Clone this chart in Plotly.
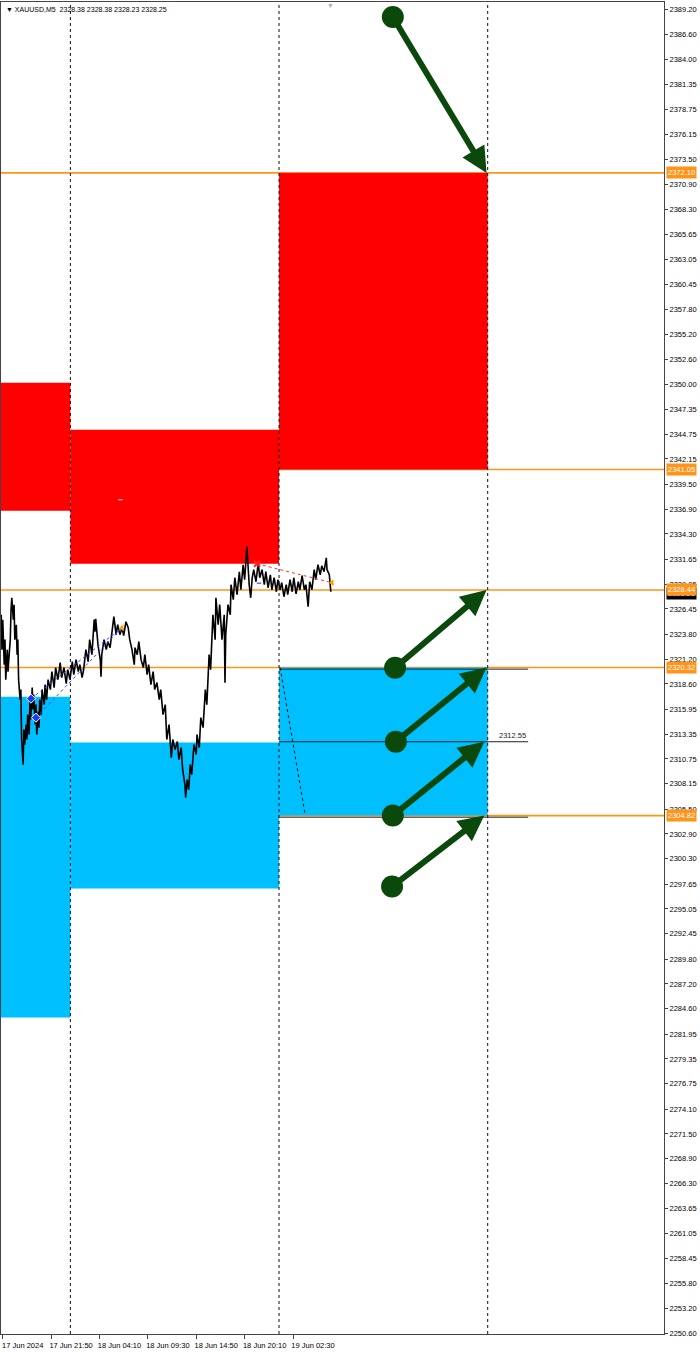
import plotly.graph_objects as go

# ---------------- data ----------------
# bar index (M5 bars, 0 = "17 Jun 2024" tick) and traced price path
bars = [-2, -1, 0, 2, 3, 4, 6, 7, 8, 10, 11, 12, 14, 15, 16, 18, 19, 20, 21, 23, 24, 25, 27, 28, 29, 31, 32, 33, 35, 36,
        37, 39, 40, 41, 43, 44, 45, 47, 48, 49, 51, 52, 55, 56, 58, 60, 63, 65, 68, 70, 73, 76, 78, 81, 84, 86, 89, 92, 94, 97,
        100, 102, 105, 107, 110, 113, 115, 118, 121, 122, 123, 126, 129, 130, 131, 134, 137, 139, 142, 145, 147, 150, 152, 155, 158, 160, 163, 166, 168, 171,
        174, 175, 178, 180, 183, 186, 188, 191, 193, 196, 199, 201, 204, 207, 209, 212, 215, 217, 220, 223, 225, 228, 231, 233, 236, 238, 241, 242, 244, 246,
        248, 250, 253, 256, 257, 260, 262, 265, 268, 270, 273, 275, 278, 281, 282, 285, 287, 290, 293, 294, 295, 298, 301, 302, 305, 307, 310, 313, 315, 318,
        320, 323, 324, 326, 328, 330, 332, 335, 338, 340, 343, 346, 348, 351, 354, 356, 359, 362, 364, 367, 369, 372, 375, 377, 380, 383, 385, 388, 391, 393,
        396, 399, 401, 404, 406, 409, 412, 414, 417, 420, 422, 425, 428, 429, 432, 433, 434]
prices = [2325.85, 2322.19, 2325.33, 2320.62, 2323.24, 2319.05, 2322.19, 2319.89, 2321.14, 2323.24, 2326.37, 2327.62, 2325.33, 2326.90, 2323.24, 2324.80, 2321.67, 2323.24, 2319.05, 2316.96,
          2318.01, 2312.78, 2310.16, 2313.82, 2312.25, 2314.35, 2312.78, 2315.39, 2313.30, 2316.96, 2314.87, 2318.22, 2315.92, 2317.49, 2314.35, 2316.44, 2313.30, 2315.71, 2314.03, 2316.96,
          2315.39, 2318.01, 2316.44, 2318.53, 2316.96, 2319.05, 2318.01, 2319.89, 2318.22, 2320.31, 2319.05, 2320.83, 2319.26, 2320.31, 2318.64, 2320.10, 2319.05, 2320.93, 2319.58, 2321.14,
          2319.89, 2320.62, 2319.26, 2320.10, 2322.19, 2320.93, 2323.24, 2321.67, 2325.33, 2324.07, 2325.43, 2322.71, 2321.14, 2319.37, 2321.67, 2323.24, 2322.19, 2323.03, 2322.40, 2324.28,
          2325.64, 2323.76, 2324.80, 2323.76, 2324.49, 2323.65, 2325.12, 2324.49, 2323.24, 2322.19, 2320.62, 2322.40, 2321.67, 2323.03, 2321.14, 2320.31, 2321.67, 2319.58, 2320.62, 2318.53,
          2319.89, 2318.01, 2318.74, 2316.96, 2318.01, 2315.39, 2316.44, 2312.78, 2314.35, 2310.89, 2312.78, 2311.73, 2312.57, 2310.68, 2311.94, 2309.64, 2308.07, 2306.70, 2308.59, 2307.54,
          2310.16, 2309.11, 2312.25, 2311.21, 2313.30, 2311.94, 2315.08, 2314.03, 2318.01, 2316.44, 2321.67, 2320.10, 2325.85, 2323.24, 2327.62, 2324.80, 2326.90, 2323.24, 2325.85, 2318.74,
          2323.76, 2326.90, 2325.85, 2328.99, 2327.42, 2329.72, 2327.94, 2330.35, 2328.46, 2331.08, 2329.51, 2332.96, 2331.60, 2328.99, 2327.62, 2329.72, 2330.56, 2329.30, 2331.29, 2329.72,
          2330.56, 2328.99, 2330.35, 2328.67, 2330.03, 2328.46, 2329.72, 2328.25, 2329.51, 2328.46, 2329.20, 2327.73, 2328.99, 2327.94, 2329.51, 2328.25, 2329.72, 2328.04, 2329.30, 2328.46,
          2329.93, 2328.46, 2328.99, 2326.69, 2329.30, 2328.46, 2330.56, 2329.51, 2331.08, 2330.03, 2330.97, 2330.35, 2331.81, 2330.56, 2330.03, 2328.99, 2328.25]

y_tick_values = [2389.20, 2386.60, 2384.00, 2381.35, 2378.75, 2376.15, 2373.50, 2370.90, 2368.30, 2365.65,
                 2363.05, 2360.45, 2357.80, 2355.20, 2352.60, 2350.00, 2347.35, 2344.75, 2342.15, 2339.50,
                 2336.90, 2334.30, 2331.65, 2329.05, 2326.45, 2323.80, 2321.20, 2318.60, 2315.95, 2313.35,
                 2310.75, 2308.15, 2305.50, 2302.90, 2300.30, 2297.65, 2295.05, 2292.45, 2289.80, 2287.20,
                 2284.60, 2281.95, 2279.35, 2276.75, 2274.10, 2271.50, 2268.90, 2266.30, 2263.65, 2261.05,
                 2258.45, 2255.80, 2253.20, 2250.60]
x_tick_bars = [0, 64, 128, 192, 256, 320, 384]
x_tick_text = ["17 Jun 2024", "17 Jun 21:50", "18 Jun 04:10", "18 Jun 09:30",
               "18 Jun 14:50", "18 Jun 20:10", "19 Jun 02:30"]

day_separators = [89.5, 365.5, 641.5]

zone_start = [-10, 89.5, 365.5]
zone_end = [89.5, 365.5, 641.5]
red_low = [2336.73, 2331.19, 2341.05]
red_high = [2350.12, 2345.21, 2372.10]
blue_low = [2283.68, 2297.18, 2304.82]
blue_high = [2317.27, 2312.46, 2320.32]

orange_levels = [2372.10, 2341.05, 2328.44, 2320.32, 2304.82]
current_price = 2328.25

black_levels = [2320.15, 2312.55, 2304.65]
black_level_start = 365.5
black_level_end = 695
black_level_label = "2312.55"

trend_bars = [367, 400]
trend_prices = [2320.3, 2304.9]

blue_tl_start_bars = [37.4, 44.0]
blue_tl_start_prices = [2317.06, 2315.07]
blue_tl_end_bar = 157.8
blue_tl_end_price = 2324.49

red_tl_bars = [336.4, 435.6]
red_tl_prices = [2331.18, 2329.20]

arrow_start_bars = [516, 519, 520, 516, 515]
arrow_start_prices = [2388.42, 2320.30, 2312.56, 2304.82, 2297.39]
arrow_end_bars = [640, 640, 640, 637, 637]
arrow_end_prices = [2372.10, 2328.44, 2320.32, 2312.55, 2304.82]

header = "\u25BC XAUUSD,M5  2328.38 2328.38 2328.23 2328.25"

# ---------------- styles ----------------
RED = "#FF0000"
BLUE = "#00BFFF"
ORANGE = "#FF9419"
GREEN = "#0B480B"
FONT = "Liberation Sans"

fig = go.Figure()

shapes = []
for i in range(len(zone_start)):
    shapes.append(dict(type="rect", xref="x", yref="y", x0=zone_start[i], x1=zone_end[i],
                       y0=red_low[i], y1=red_high[i], fillcolor=RED, line=dict(width=0), layer="below"))
    shapes.append(dict(type="rect", xref="x", yref="y", x0=zone_start[i], x1=zone_end[i],
                       y0=blue_low[i], y1=blue_high[i], fillcolor=BLUE, line=dict(width=0), layer="below"))
for lv in black_levels:
    shapes.append(dict(type="line", xref="x", yref="y", x0=black_level_start, x1=black_level_end,
                       y0=lv, y1=lv, line=dict(color="#222222", width=1), layer="below"))
for lv in orange_levels:
    shapes.append(dict(type="line", xref="paper", yref="y", x0=0, x1=1, y0=lv, y1=lv,
                       line=dict(color=ORANGE, width=1.6), layer="below"))
for sep in day_separators:
    shapes.append(dict(type="line", xref="x", yref="paper", x0=sep, x1=sep, y0=0, y1=1,
                       line=dict(color="#111111", width=1, dash="dot"), layer="above"))

# small marks
shapes.append(dict(type="line", xref="x", yref="y", x0=152.5, x1=159, y0=2337.88, y1=2337.88,
                   line=dict(color="#FFD0D0", width=1), layer="above"))
shapes.append(dict(type="line", xref="x", yref="y", x0=336, x1=342, y0=2329.15, y1=2329.15,
                   line=dict(color="#2222FF", width=1), layer="above"))

# trend line (dotted, day 19)
fig.add_trace(go.Scatter(x=trend_bars, y=trend_prices, mode="lines",
                         line=dict(color="#111111", width=1, dash="dot"), hoverinfo="skip", showlegend=False))

# price
fig.add_trace(go.Scatter(x=bars, y=prices, mode="lines",
                         line=dict(color="#000000", width=1.6), showlegend=False, name="XAUUSD"))

# blue dotted trend lines
for sb, sp in zip(blue_tl_start_bars, blue_tl_start_prices):
    fig.add_trace(go.Scatter(x=[sb, blue_tl_end_bar], y=[sp, blue_tl_end_price], mode="lines",
                             line=dict(color="#3344FF", width=1, dash="dot"), showlegend=False, hoverinfo="skip"))
fig.add_trace(go.Scatter(x=blue_tl_start_bars, y=blue_tl_start_prices, mode="markers",
                         marker=dict(symbol="diamond", size=7, color="#2233FF", line=dict(color="white", width=1)),
                         showlegend=False, hoverinfo="skip"))
fig.add_trace(go.Scatter(x=[blue_tl_end_bar], y=[blue_tl_end_price], mode="markers",
                         marker=dict(symbol="triangle-left", size=6, color="#FFA500"),
                         showlegend=False, hoverinfo="skip"))

# red dotted line
fig.add_trace(go.Scatter(x=red_tl_bars, y=red_tl_prices, mode="lines",
                         line=dict(color="#FF3030", width=1, dash="dot"), showlegend=False, hoverinfo="skip"))
fig.add_trace(go.Scatter(x=[red_tl_bars[0]], y=[red_tl_prices[0]], mode="markers",
                         marker=dict(symbol="x-thin", size=6, color="#FF2020", line=dict(color="#FF2020", width=2)),
                         showlegend=False, hoverinfo="skip"))
fig.add_trace(go.Scatter(x=[red_tl_bars[1]], y=[red_tl_prices[1]], mode="markers",
                         marker=dict(symbol="triangle-left", size=6, color="#FFA500"),
                         showlegend=False, hoverinfo="skip"))

# arrow start circles
fig.add_trace(go.Scatter(x=arrow_start_bars, y=arrow_start_prices, mode="markers",
                         marker=dict(size=22, color=GREEN), showlegend=False, hoverinfo="skip"))

annotations = []
for sb, sp, eb, ep in zip(arrow_start_bars, arrow_start_prices, arrow_end_bars, arrow_end_prices):
    annotations.append(dict(x=eb, y=ep, xref="x", yref="y", ax=sb, ay=sp, axref="x", ayref="y",
                            text="", showarrow=True, arrowhead=2, arrowsize=0.85, arrowwidth=6,
                            arrowcolor=GREEN, standoff=0, startstandoff=0))

# price labels on the right axis
annotations.append(dict(x=1, y=current_price, xref="paper", yref="y", xanchor="left", yanchor="middle",
                        xshift=2, yshift=-2, text="2328.25", showarrow=False, bgcolor="#000000",
                        font=dict(family=FONT, size=7.5, color="white"), borderpad=1))
for lv in orange_levels:
    annotations.append(dict(x=1, y=lv, xref="paper", yref="y", xanchor="left", yanchor="middle",
                            xshift=2, text=f"{lv:.2f}", showarrow=False, bgcolor=ORANGE,
                            font=dict(family=FONT, size=7.5, color="white"), borderpad=1))

annotations.append(dict(x=black_level_end, y=black_levels[1], xref="x", yref="y", xanchor="right",
                        yanchor="bottom", text=black_level_label, showarrow=False,
                        font=dict(family=FONT, size=7.5, color="#222222")))

annotations.append(dict(x=0.005, y=1, xref="paper", yref="paper", xanchor="left", yanchor="top",
                        yshift=-2, text=header, showarrow=False,
                        font=dict(family=FONT, size=7, color="#000000")))
annotations.append(dict(x=0.4977, y=1, xref="paper", yref="paper", xanchor="center", yanchor="top",
                        yshift=2, text="\u25BC", showarrow=False,
                        font=dict(family=FONT, size=7, color="#B0B0B0")))

fig.update_layout(
    width=700, height=1352,
    margin=dict(l=1, r=36, t=2, b=18),
    paper_bgcolor="white", plot_bgcolor="white",
    showlegend=False,
    shapes=shapes,
    annotations=annotations,
    font=dict(family=FONT, size=7.5, color="#000000"),
    xaxis=dict(range=[-2.28, 874.7], showgrid=False, zeroline=False,
               showline=True, linecolor="#444444", linewidth=1, mirror=True,
               ticks="outside", ticklen=4, tickcolor="#444444",
               tickvals=x_tick_bars, ticktext=x_tick_text, ticklabelshift=20,
               tickfont=dict(family=FONT, size=7.5, color="#000000")),
    yaxis=dict(range=[2250.55, 2389.99], side="right", showgrid=False, zeroline=False,
               showline=True, linecolor="#444444", linewidth=1, mirror=True,
               ticks="outside", ticklen=3, tickcolor="#444444",
               tickvals=y_tick_values, ticktext=[f"{v:.2f}" for v in y_tick_values],
               tickfont=dict(family=FONT, size=7.5, color="#000000")),
)

fig.write_html("out.html", config={"displayModeBar": False},
               post_script="document.body.style.margin='0';")
